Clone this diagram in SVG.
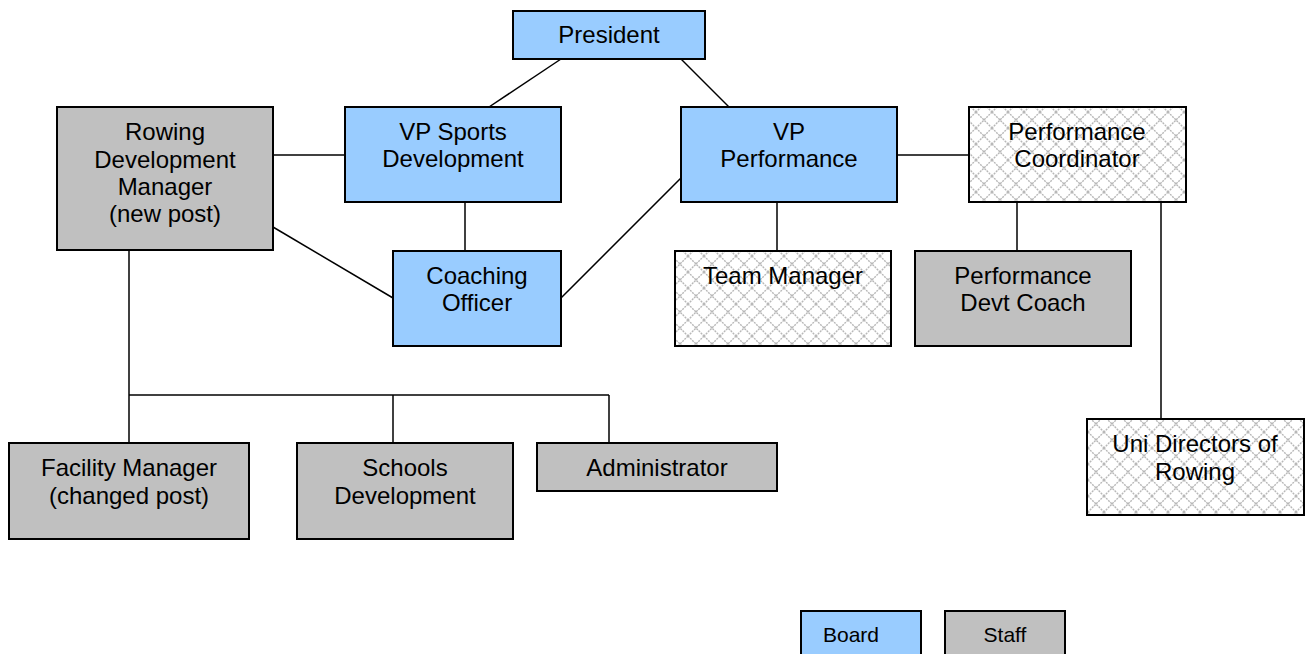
<svg xmlns="http://www.w3.org/2000/svg" width="1306" height="654" viewBox="0 0 1306 654">
<style>
.box{stroke:#000;stroke-width:2}
.board{fill:#99ccff}
.staff{fill:#c0c0c0}
.hatch{fill:url(#hatch)}
text{font-family:"Liberation Sans",Arial,sans-serif;font-size:24px;fill:#000;text-anchor:middle}
.leg{font-size:21px}
#connectors line{stroke:#000;stroke-width:1.5}
</style>
<defs>
<pattern id="hatch" width="16" height="16" patternUnits="userSpaceOnUse">
<rect width="16" height="16" fill="#fff"/>
<path d="M0,0 L16,16 M16,0 L0,16" stroke="#b8b8b8" stroke-width="1.4" stroke-dasharray="2,1"/>
</pattern>
</defs>
<rect width="1306" height="654" fill="#fff"/>
<g id="connectors">
<line x1="561" y1="59" x2="489" y2="107"/>
<line x1="681" y1="59" x2="729" y2="107"/>
<line x1="273" y1="155" x2="345" y2="155"/>
<line x1="465" y1="202" x2="465" y2="251"/>
<line x1="273" y1="227" x2="393" y2="298"/>
<line x1="561" y1="298" x2="681" y2="178"/>
<line x1="897" y1="155" x2="969" y2="155"/>
<line x1="777" y1="202" x2="777" y2="251"/>
<line x1="1017" y1="202" x2="1017" y2="251"/>
<line x1="1161" y1="202" x2="1161" y2="419"/>
<line x1="129" y1="250" x2="129" y2="443"/>
<line x1="129" y1="395" x2="609" y2="395"/>
<line x1="393" y1="395" x2="393" y2="443"/>
<line x1="609" y1="395" x2="609" y2="443"/>
</g>
<g id="president"><rect class="box board" x="513" y="11" width="192" height="48"/><text x="609" y="43">President</text></g>
<g id="vp-sports"><rect class="box board" x="345" y="107" width="216" height="95"/><text x="453" y="140">VP Sports</text><text x="453" y="167">Development</text></g>
<g id="vp-performance"><rect class="box board" x="681" y="107" width="216" height="95"/><text x="789" y="140">VP</text><text x="789" y="167">Performance</text></g>
<g id="rowing-dev-manager"><rect class="box staff" x="57" y="107" width="216" height="143"/><text x="165" y="140">Rowing</text><text x="165" y="168">Development</text><text x="165" y="195">Manager</text><text x="165" y="222">(new post)</text></g>
<g id="performance-coordinator"><rect class="box hatch" x="969" y="107" width="217" height="95"/><text x="1077" y="140">Performance</text><text x="1077" y="167">Coordinator</text></g>
<g id="coaching-officer"><rect class="box board" x="393" y="251" width="168" height="95"/><text x="477" y="284">Coaching</text><text x="477" y="311">Officer</text></g>
<g id="team-manager"><rect class="box hatch" x="675" y="251" width="216" height="95"/><text x="783" y="284">Team Manager</text></g>
<g id="performance-devt-coach"><rect class="box staff" x="915" y="251" width="216" height="95"/><text x="1023" y="284">Performance</text><text x="1023" y="311">Devt Coach</text></g>
<g id="uni-directors"><rect class="box hatch" x="1087" y="419" width="217" height="96"/><text x="1195" y="452">Uni Directors of</text><text x="1195" y="480">Rowing</text></g>
<g id="facility-manager"><rect class="box staff" x="9" y="443" width="240" height="96"/><text x="129" y="476">Facility Manager</text><text x="129" y="504">(changed post)</text></g>
<g id="schools-development"><rect class="box staff" x="297" y="443" width="216" height="96"/><text x="405" y="476">Schools</text><text x="405" y="504">Development</text></g>
<g id="administrator"><rect class="box staff" x="537" y="443" width="240" height="48"/><text x="657" y="476">Administrator</text></g>
<g id="legend-board"><rect class="box board" x="801" y="611" width="120" height="50"/><text class="leg" x="851" y="642">Board</text></g>
<g id="legend-staff"><rect class="box staff" x="945" y="611" width="120" height="50"/><text class="leg" x="1005" y="642">Staff</text></g>
</svg>
